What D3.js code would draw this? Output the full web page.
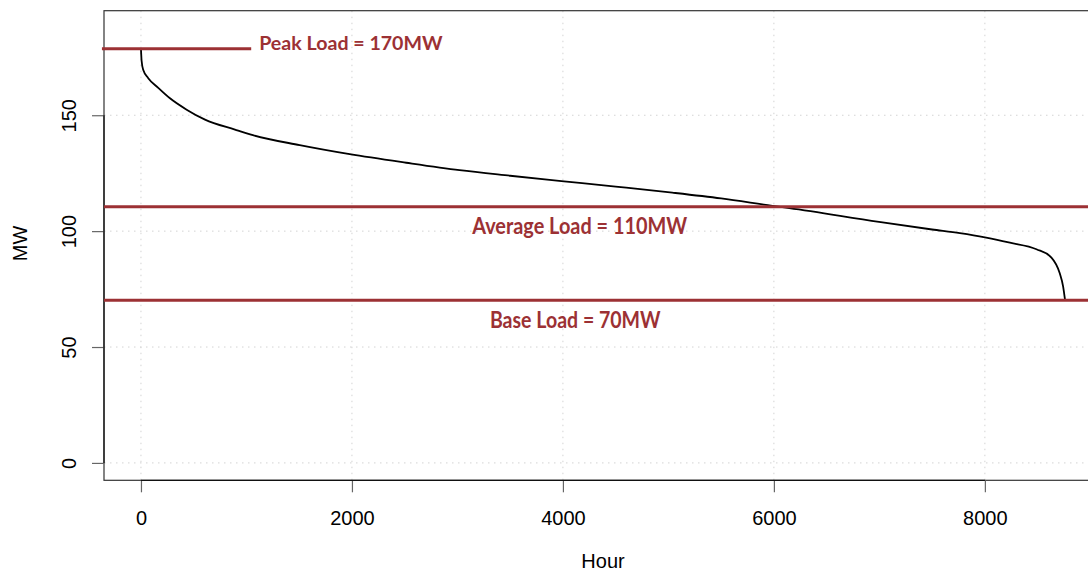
<!DOCTYPE html>
<html>
<head>
<meta charset="utf-8">
<script src="https://cdn.jsdelivr.net/npm/d3@7"></script>
<style>
  html, body { margin: 0; padding: 0; background: #fff; overflow: hidden; }
  svg { display: block; }
</style>
</head>
<body>
<svg id="chart" width="1088" height="573"></svg>
<script>
// ---- data ----
const hours = [0, 6, 22, 69, 164, 275, 433, 607, 891, 1061, 1505, 1979, 2515, 3020, 3500, 3986, 4500, 5037, 5500, 5986, 6146, 6996, 7500, 7763, 8000, 8237, 8489, 8631, 8710, 8742, 8760];
const loadMW = [178.7, 173.5, 169.5, 166.0, 161.8, 157.3, 152.4, 148.1, 143.8, 141.4, 137.1, 133.2, 129.5, 126.3, 123.9, 121.6, 119.2, 116.6, 114.1, 110.9, 109.9, 104.0, 100.7, 99.1, 97.3, 95.0, 92.2, 88.6, 81.8, 76.1, 70.3];

const xTicks = [0, 2000, 4000, 6000, 8000];
const yTicks = [0, 50, 100, 150];
const xTickLabels = ["0", "2000", "4000", "6000", "8000"];
const yTickLabels = ["0", "50", "100", "150"];

const refNames = ["Peak", "Average", "Base"];
const refValues = [178.7, 110.5, 70.2];
const refLabels = ["Peak Load = 170MW", "Average Load = 110MW", "Base Load = 70MW"];
const peakSegmentHours = [-370, 1045];
// label anchor positions in data units (hour, MW)
const labelHours = [1121, 4159, 4117];
const labelMW = [178.1, 98.6, 58.3];

const xTitle = "Hour";
const yTitle = "MW";

// ---- layout ----
const svg = d3.select("#chart");
const plot = { left: 104, right: 1102, top: 10.7, bottom: 480.3 };
const red = "#9c3134";

const x = d3.scaleLinear().domain([-350.4, 9110.4]).range([plot.left, plot.right]);
const y = d3.scaleLinear().domain([-7.5, 195.1]).range([plot.bottom, plot.top]);

// grid (dotted)
const grid = svg.append("g").attr("stroke", "#d3d3d3").attr("stroke-width", 1).attr("stroke-dasharray", "1.5,4.5");
grid.selectAll("line.v").data(xTicks).join("line")
  .attr("x1", d => x(d)).attr("x2", d => x(d))
  .attr("y1", plot.top).attr("y2", plot.bottom);
grid.selectAll("line.h").data(yTicks).join("line")
  .attr("x1", plot.left).attr("x2", plot.right)
  .attr("y1", d => y(d)).attr("y2", d => y(d));

// box
svg.append("rect")
  .attr("x", plot.left).attr("y", plot.top)
  .attr("width", plot.right - plot.left).attr("height", plot.bottom - plot.top)
  .attr("fill", "none").attr("stroke", "#333").attr("stroke-width", 1.2);

// axes (R style)
const xAxis = d3.axisBottom(x).tickValues(xTicks).tickFormat((d, i) => xTickLabels[i]).tickSize(12).tickPadding(18);
const gx = svg.append("g").attr("transform", `translate(0,${plot.bottom})`).call(xAxis);
gx.select(".domain").remove();
gx.append("line").attr("x1", x(xTicks[0])).attr("x2", x(xTicks[xTicks.length - 1]))
  .attr("y1", 0).attr("y2", 0).attr("stroke", "#111").attr("stroke-width", 1.2);
gx.selectAll(".tick line").attr("stroke", "#666").attr("stroke-width", 1.2);
gx.selectAll(".tick text").attr("font-family", "Liberation Sans, Arial, sans-serif")
  .attr("font-size", 20).attr("fill", "#000").attr("dy", null).attr("y", 45).attr("dominant-baseline", "alphabetic");

const yAxis = d3.axisLeft(y).tickValues(yTicks).tickFormat((d, i) => yTickLabels[i]).tickSize(12);
const gy = svg.append("g").attr("transform", `translate(${plot.left},0)`).call(yAxis);
gy.select(".domain").remove();
gy.append("line").attr("x1", 0).attr("x2", 0)
  .attr("y1", y(yTicks[0])).attr("y2", y(yTicks[yTicks.length - 1])).attr("stroke", "#111").attr("stroke-width", 1.2);
gy.selectAll(".tick line").attr("stroke", "#666").attr("stroke-width", 1.2);
gy.selectAll(".tick text").remove();
gy.selectAll(".tick").append("text")
  .attr("transform", "translate(-28,0) rotate(-90)")
  .attr("text-anchor", "middle")
  .attr("font-family", "Liberation Sans, Arial, sans-serif")
  .attr("font-size", 20).attr("fill", "#000")
  .text((d, i) => yTickLabels[i]);

// axis titles
svg.append("text")
  .attr("x", (plot.left + plot.right) / 2).attr("y", 568)
  .attr("text-anchor", "middle")
  .attr("font-family", "Liberation Sans, Arial, sans-serif").attr("font-size", 20)
  .text(xTitle);
svg.append("text")
  .attr("transform", `translate(27,${(plot.top + plot.bottom) / 2 - 2}) rotate(-90)`)
  .attr("text-anchor", "middle")
  .attr("font-family", "Liberation Sans, Arial, sans-serif").attr("font-size", 20)
  .text(yTitle);

// load duration curve
const line = d3.line().x(d => x(d[0])).y(d => y(d[1])).curve(d3.curveMonotoneX);
svg.append("path")
  .datum(hours.map((h, i) => [h, loadMW[i]]))
  .attr("d", line)
  .attr("fill", "none").attr("stroke", "#000").attr("stroke-width", 1.8);

// reference lines
svg.append("line")
  .attr("x1", x(peakSegmentHours[0])).attr("x2", x(peakSegmentHours[1]))
  .attr("y1", y(refValues[0])).attr("y2", y(refValues[0]))
  .attr("stroke", red).attr("stroke-width", 3);
[1, 2].forEach(i => {
  svg.append("line")
    .attr("x1", plot.left).attr("x2", plot.right)
    .attr("y1", y(refValues[i])).attr("y2", y(refValues[i]))
    .attr("stroke", red).attr("stroke-width", 3);
});

// labels
const labelWidths = [183.4, 215, 170.7];
const labelSizes = [19, 22, 22];
const anchors = ["start", "middle", "middle"];
refLabels.forEach((t, i) => {
  svg.append("text")
    .attr("x", x(labelHours[i])).attr("y", y(labelMW[i]))
    .attr("text-anchor", anchors[i])
    .attr("font-family", "Lato, 'Open Sans', sans-serif").attr("font-weight", 700)
    .attr("font-size", labelSizes[i])
    .attr("textLength", labelWidths[i]).attr("lengthAdjust", "spacingAndGlyphs")
    .attr("fill", red)
    .text(t);
});
</script>
</body>
</html>
